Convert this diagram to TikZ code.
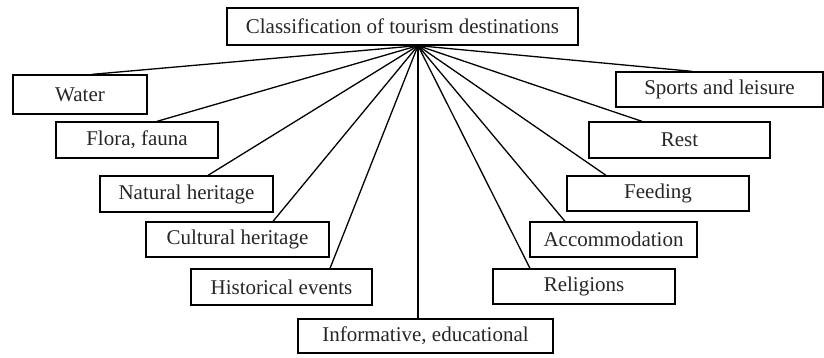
\documentclass[tikz,border=0pt]{standalone}
\usepackage{fontspec}
\setmainfont{Liberation Serif}
\begin{document}
\begin{tikzpicture}[x=1pt,y=-1pt,
  box/.style={draw=black, line width=1.3pt, inner sep=0pt, align=center,
    font=\fontsize{21}{24}\selectfont, text=black!85},
  link/.style={draw=black, line width=1.3pt}]
\useasboundingbox (0,0) rectangle (824,358);
\node[box, minimum width=351pt, minimum height=37pt] (title) at (402.5,26.5) {Classification of tourism destinations};
\node[box, minimum width=134pt, minimum height=39pt] (water) at (80,94.5) {Water};
\node[box, minimum width=162pt, minimum height=36pt] (flora) at (137,140) {Flora, fauna};
\node[box, minimum width=173pt, minimum height=36pt] (natural) at (186.5,194) {Natural heritage};
\node[box, minimum width=183pt, minimum height=35pt] (cultural) at (237.5,239.5) {Cultural heritage};
\node[box, minimum width=181pt, minimum height=36pt] (historical) at (281.5,287) {Historical events};
\node[box, minimum width=255pt, minimum height=34pt] (informative) at (425.5,336) {Informative, educational};
\node[box, minimum width=182pt, minimum height=35pt] (religions) at (584,286.5) {Religions};
\node[box, minimum width=167pt, minimum height=35pt] (accommodation) at (613.5,239.5) {Accommodation};
\node[box, minimum width=182pt, minimum height=35pt] (feeding) at (658,193.5) {Feeding};
\node[box, minimum width=181pt, minimum height=36pt] (rest) at (679.5,140) {Rest};
\node[box, minimum width=207pt, minimum height=35pt] (sports) at (719.5,89.5) {Sports and leisure};
\coordinate (hub) at ([xshift=15.5pt]title.south);
\draw[link] (hub) -- ([xshift=12pt]water.north);
\draw[link] (hub) -- ([xshift=20pt]flora.north);
\draw[link] (hub) -- ([xshift=21.5pt]natural.north);
\draw[link] (hub) -- ([xshift=35.5pt]cultural.north);
\draw[link] (hub) -- ([xshift=48.5pt]historical.north);
\draw[link] (hub) -- ([xshift=-7.5pt]informative.north);
\draw[link] (hub) -- ([xshift=-54pt]religions.north);
\draw[link] (hub) -- ([xshift=-48.5pt]accommodation.north);
\draw[link] (hub) -- ([xshift=-52pt]feeding.north);
\draw[link] (hub) -- ([xshift=-37.5pt]rest.north);
\draw[link] (hub) -- ([xshift=-27.5pt]sports.north);
\end{tikzpicture}
\end{document}
